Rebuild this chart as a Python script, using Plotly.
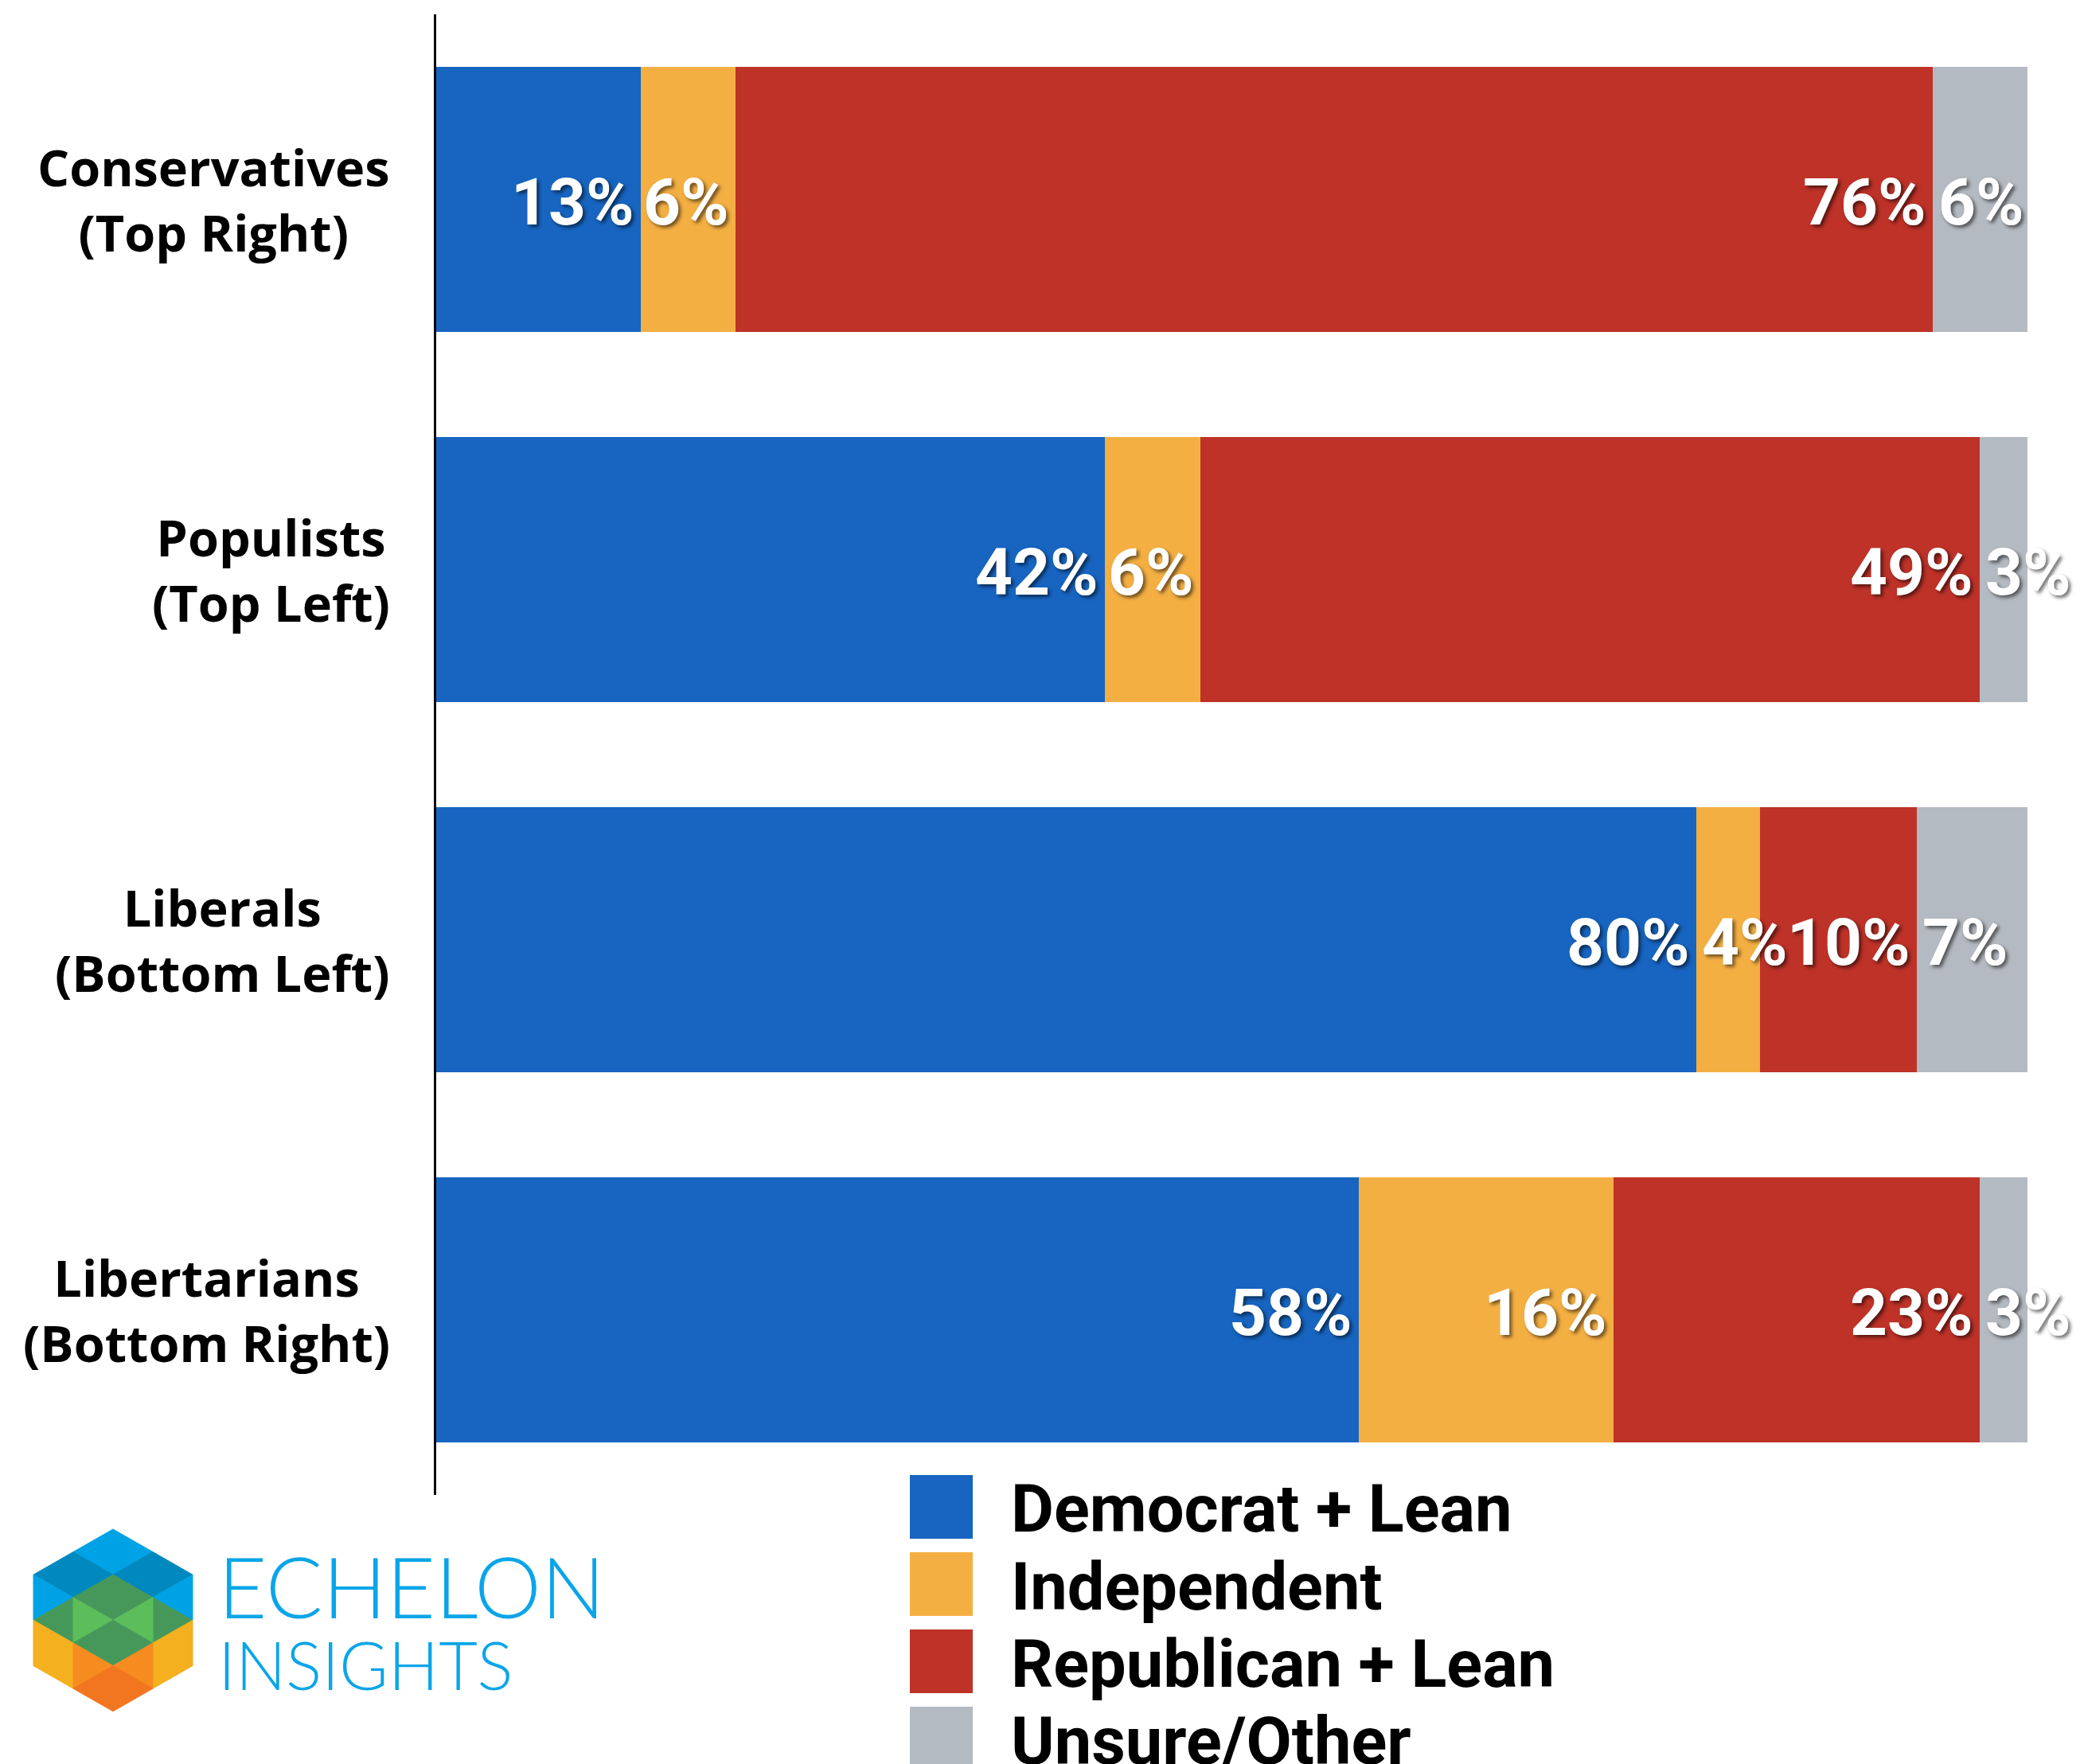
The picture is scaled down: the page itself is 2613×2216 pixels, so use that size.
import plotly.graph_objects as go

# ---------------- data ----------------
categories = ["Conservatives<br>(Top Right)", "Populists<br>(Top Left)",
              "Liberals<br>(Bottom Left)", "Libertarians<br>(Bottom Right)"]
series_names = ["Democrat + Lean", "Independent", "Republican + Lean", "Unsure/Other"]
democrat = [13, 42, 80, 58]
independent = [6, 6, 4, 16]
republican = [76, 49, 10, 23]
unsure = [6, 3, 7, 3]
colors = ["#1765C1", "#F4AF43", "#BE3228", "#B4BAC1"]

# ---------------- geometry ----------------
W, H = 2613, 2216
PL, PR, PT, PB = 548, 2547, 18, 1878
FONT = "Roboto"
LABEL_SIZE = 82


def px(x):
    return x / W


def py(y):
    return 1 - y / H


series = [democrat, independent, republican, unsure]
fig = go.Figure()
for name, vals, col in zip(series_names, series, colors):
    fig.add_trace(go.Bar(
        y=categories, x=vals, name=name, orientation="h",
        marker=dict(color=col, line=dict(width=0)),
        showlegend=False, hovertemplate=name + ": %{x}%<extra></extra>",
    ))

annotations = []
shapes = []

# percentage labels (positions from normalized stack, same as barnorm='percent')
ppu = (PR - PL) / 100.0
for i, cat in enumerate(categories):
    vals = [s[i] for s in series]
    total = sum(vals)
    cum = 0.0
    for j, v in enumerate(vals):
        share = v / total * 100
        left, right = cum, cum + share
        cum = right
        txt = f"{v}%"
        est = sum(0.73 if ch == "%" else 0.56 for ch in txt) * LABEL_SIZE
        if j == len(vals) - 1 or share * ppu < est + 8:
            x, anchor, shift = left, "left", 5
        else:
            x, anchor, shift = right, "right", -6
        annotations.append(dict(
            x=x, y=cat, xref="x", yref="y", text=f"<b>{txt}</b>",
            xanchor=anchor, yanchor="middle", xshift=shift, yshift=-3, showarrow=False,
            font=dict(family=FONT, size=LABEL_SIZE, color="white",
                      shadow="3px 3px 4px rgba(0,0,0,0.55)"),
        ))

# category labels
for cat in categories:
    annotations.append(dict(
        x=px(492), y=cat, xref="paper", yref="y", text=f"<b>{cat}</b>",
        xanchor="right", yanchor="middle", align="center", showarrow=False,
        font=dict(family="Open Sans", size=63, color="black"),
    ))

# legend (manual, large swatches)
for k, (name, col) in enumerate(zip(series_names, colors)):
    top = 1853 + k * 97
    shapes.append(dict(type="rect", xref="paper", yref="paper",
                       x0=px(1143), x1=px(1222), y0=py(top + 80), y1=py(top),
                       fillcolor=col, line=dict(width=0)))
    annotations.append(dict(
        x=px(1268), y=py(top + 43), xref="paper", yref="paper",
        text=f"<b>{name}</b>", xanchor="left", yanchor="middle", showarrow=False,
        font=dict(family=FONT, size=83, color="black"),
    ))

# logo (hexagon of diamonds) in unit grid coords
LX0, LY0, DU, DV = 42, 1921, 50, 28.6
logo_polys = [
    ("#00A2E6", [(2, 0), (1, 1), (2, 2), (3, 1)]),
    ("#0089BE", [(1, 1), (0, 2), (1, 3), (2, 2)]),
    ("#0089BE", [(3, 1), (2, 2), (3, 3), (4, 2)]),
    ("#00A2E6", [(0, 2), (1, 3), (0, 4)]),
    ("#00A2E6", [(4, 2), (3, 3), (4, 4)]),
    ("#46985A", [(2, 2), (1, 3), (2, 4), (3, 3)]),
    ("#46985A", [(0, 4), (1, 3), (1, 5)]),
    ("#46985A", [(4, 4), (3, 3), (3, 5)]),
    ("#5BBE5A", [(1, 3), (2, 4), (1, 5)]),
    ("#5BBE5A", [(3, 3), (2, 4), (3, 5)]),
    ("#46985A", [(2, 4), (1, 5), (2, 6), (3, 5)]),
    ("#F4B01E", [(0, 4), (1, 5), (1, 7), (0, 6)]),
    ("#F4B01E", [(4, 4), (3, 5), (3, 7), (4, 6)]),
    ("#F68B20", [(1, 5), (2, 6), (1, 7)]),
    ("#F68B20", [(3, 5), (2, 6), (3, 7)]),
    ("#F27620", [(2, 6), (1, 7), (2, 8), (3, 7)]),
]
for col, pts in logo_polys:
    path = "M " + " L ".join(f"{px(LX0 + u * DU):.5f},{py(LY0 + v * DV):.5f}" for u, v in pts) + " Z"
    shapes.append(dict(type="path", xref="paper", yref="paper", path=path,
                       fillcolor=col, line=dict(color=col, width=1), layer="above"))

annotations.append(dict(x=px(272), y=py(1992), xref="paper", yref="paper", text="ECHELON",
                        xanchor="left", yanchor="middle", showarrow=False,
                        font=dict(family="Lato", size=106, color="#0AA5E8", weight=300)))
annotations.append(dict(x=px(272), y=py(2090), xref="paper", yref="paper", text="INSIGHTS",
                        xanchor="left", yanchor="middle", showarrow=False,
                        font=dict(family="Lato", size=84, color="#0AA5E8", weight=300)))

fig.update_layout(
    width=W, height=H, autosize=False,
    margin=dict(l=0, r=0, t=0, b=0, pad=0),
    paper_bgcolor="white", plot_bgcolor="white",
    barmode="stack", barnorm="percent", bargap=0.282,
    xaxis=dict(domain=[px(PL), px(PR)], range=[0, 100], visible=False, fixedrange=True),
    yaxis=dict(domain=[py(PB), py(PT)], categoryorder="array", categoryarray=categories,
               range=[3.5, -0.5], showticklabels=False, ticks="", showgrid=False,
               zeroline=False, showline=True, linecolor="black", linewidth=3),
    annotations=annotations, shapes=shapes,
    font=dict(family=FONT),
)

fig.write_html("out.html", config={"displayModeBar": False},
               post_script="document.body.style.margin='0';document.body.style.overflow='hidden';")
